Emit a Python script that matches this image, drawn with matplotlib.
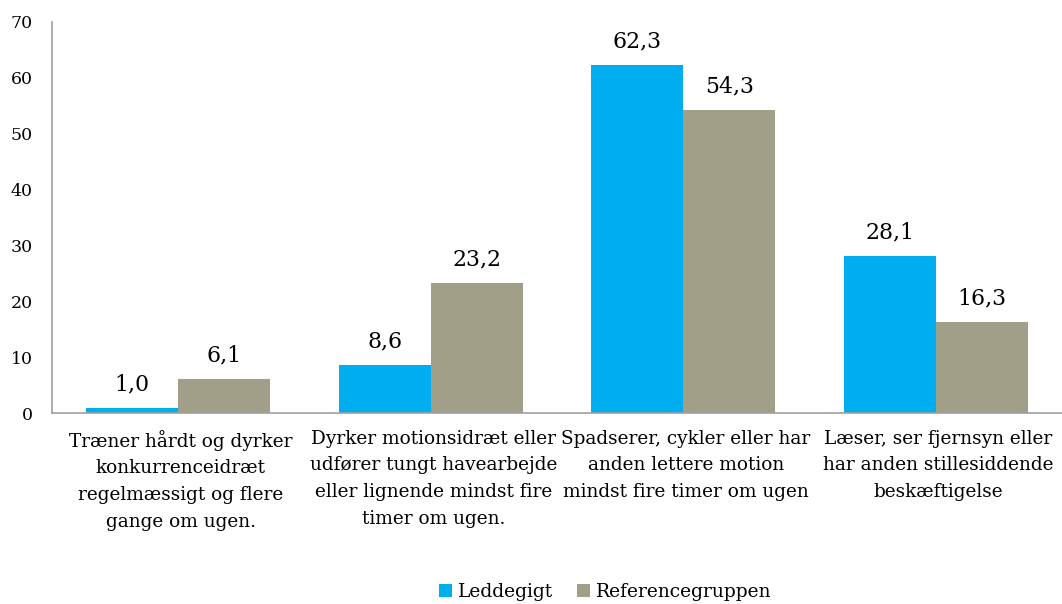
import matplotlib.pyplot as plt
import numpy as np

plt.rcParams['font.family'] = ['DejaVu Serif']

categories = ['Træner hårdt og dyrker\nkonkurrenceidræt\nregelmæssigt og flere\ngange om ugen.',
              'Dyrker motionsidræt eller\nudfører tungt havearbejde\neller lignende mindst fire\ntimer om ugen.',
              'Spadserer, cykler eller har\nanden lettere motion\nmindst fire timer om ugen',
              'Læser, ser fjernsyn eller\nhar anden stillesiddende\nbeskæftigelse']
leddegigt = [1.0, 8.6, 62.3, 28.1]
reference = [6.1, 23.2, 54.3, 16.3]
series_names = ['Leddegigt', 'Referencegruppen']

blue = '#00AEEF'
grey = '#A29F89'

fig = plt.figure(figsize=(10.62, 6.04), dpi=100)
ax = fig.add_axes([0.049, 0.316, 0.951, 0.648])

x = np.arange(len(categories))
w = 0.365
b1 = ax.bar(x - w / 2, leddegigt, w, color=blue, label=series_names[0])
b2 = ax.bar(x + w / 2, reference, w, color=grey, label=series_names[1])

for bars, vals in [(b1, leddegigt), (b2, reference)]:
    for r, v in zip(bars, vals):
        ax.annotate(('%.1f' % v).replace('.', ','),
                    (r.get_x() + r.get_width() / 2, v),
                    xytext=(0, 9), textcoords='offset points',
                    ha='center', va='bottom', fontsize=15.8)

ax.set_xlim(-0.5, 3.5)
ax.set_ylim(0, 70)
ax.set_yticks(range(0, 71, 10))
ax.set_xticks(x + 0.01)
ax.set_xticklabels(categories, fontsize=13.3, linespacing=1.62)
ax.tick_params(axis='both', length=0)
ax.tick_params(axis='y', labelsize=12.5, pad=14)
ax.tick_params(axis='x', pad=12)

for s in ['top', 'right']:
    ax.spines[s].set_visible(False)
for s in ['left', 'bottom']:
    ax.spines[s].set_color('#A0A0A0')
    ax.spines[s].set_linewidth(1.2)

fig.legend(loc='lower center', bbox_to_anchor=(0.57, -0.022), ncol=2,
           frameon=False, fontsize=13.4, handlelength=0.7, handleheight=0.7,
           handletextpad=0.3, columnspacing=1.3)

fig.savefig('out.png', dpi=100, facecolor='w')
